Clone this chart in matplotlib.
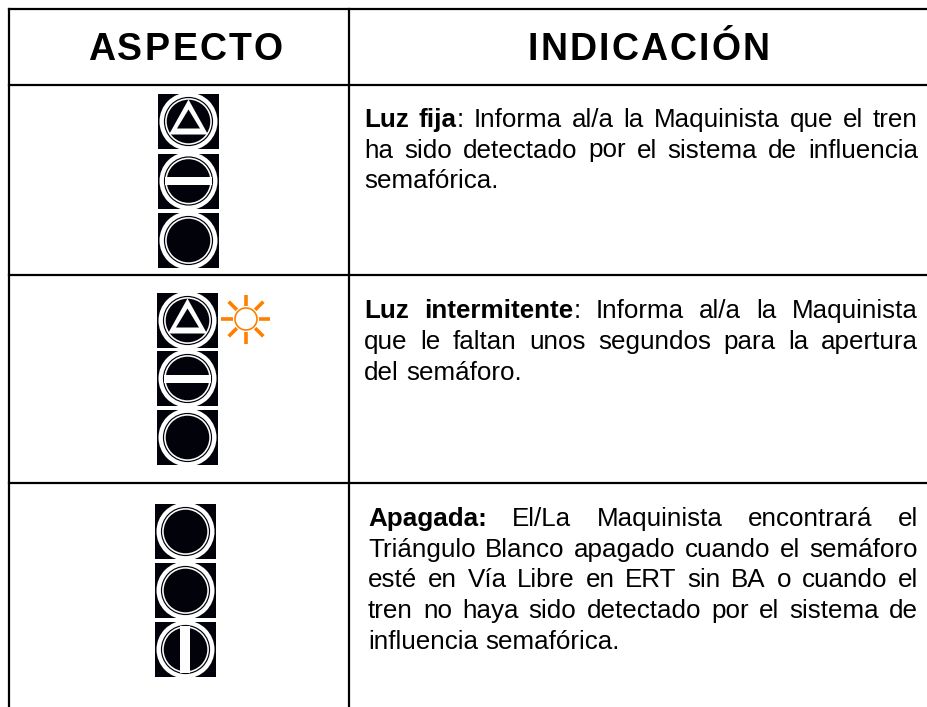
import matplotlib
matplotlib.use('Agg')
import matplotlib.pyplot as plt
from matplotlib.patches import Circle, Polygon, Rectangle
import numpy as np

plt.rcParams['font.family'] = ['Liberation Sans', 'DejaVu Sans']

headers = ['ASPECTO', 'INDICACIÓN']

# what each lamp shows, top to bottom
row1_lamps = ['triangle', 'hbar', 'off']
row2_lamps = ['triangle', 'hbar', 'off']
row3_lamps = ['off', 'off', 'vbar']

# bold lead-in + lines of the text
row1_bold = 'Luz fija'
row1_lines = ['Luz fija: Informa al/a la Maquinista que el tren',
              'ha sido detectado por el sistema de influencia',
              'semafórica.']
row2_bold = 'Luz intermitente'
row2_lines = ['Luz intermitente: Informa al/a la Maquinista',
              'que le faltan unos segundos para la apertura',
              'del semáforo.']
row3_bold = 'Apagada:'
row3_lines = ['Apagada: El/La Maquinista encontrará el',
              'Triángulo Blanco apagado cuando el semáforo',
              'esté en Vía Libre en ERT sin BA o cuando el',
              'tren no haya sido detectado por el sistema de',
              'influencia semafórica.']

fig = plt.figure(figsize=(9.27, 7.07), dpi=100)
ax = fig.add_axes([0, 0, 1, 1])
ax.set_xlim(0, 927)
ax.set_ylim(707, 0)
ax.axis('off')

BLACK = '#02030a'
ORANGE = '#ff8000'
LEFT, MID, RIGHT = 9, 349, 927
TOP, ROW1, ROW2, ROW3 = 9, 85, 275, 483

# table grid, open at the right and at the bottom
ax.plot([LEFT, LEFT], [TOP, 707], color='black', lw=1.6)
ax.plot([MID, MID], [TOP, 707], color='black', lw=1.6)
for y in [TOP, ROW1, ROW2, ROW3]:
    ax.plot([LEFT, RIGHT], [y, y], color='black', lw=1.6)

renderer = fig.canvas.get_renderer()


def text_width(s, **kw):
    t = ax.text(0, 0, s, **kw)
    w = t.get_window_extent(renderer).width
    t.remove()
    return w


def spaced(s, x, y, gap, size):
    # header with wide letter spacing
    for ch in s:
        ax.text(x, y, ch, fontsize=size, fontweight='bold', va='baseline', ha='left')
        x += text_width(ch, fontsize=size, fontweight='bold') + gap


def justified(lines, bold, x0, x1, y0, step, size=18.7):
    n_bold = len(bold.split(' '))
    for i, line in enumerate(lines):
        parts = []
        for j, w in enumerate(line.split(' ')):
            if i == 0 and j < n_bold:
                # colon after the bold lead-in can be normal weight
                if w.endswith(':') and not bold.endswith(':'):
                    parts.append([(w[:-1], 'bold'), (':', 'normal')])
                else:
                    parts.append([(w, 'bold')])
            else:
                parts.append([(w, 'normal')])
        widths = [sum(text_width(p, fontsize=size, fontweight=s) for p, s in ws) for ws in parts]
        if i < len(lines) - 1:
            space = (x1 - x0 - sum(widths)) / (len(parts) - 1)
        else:
            space = text_width('a b', fontsize=size) - text_width('ab', fontsize=size)
        x = x0
        y = y0 + i * step
        for ws, w in zip(parts, widths):
            xx = x
            for p, s in ws:
                ax.text(xx, y, p, fontsize=size, fontweight=s, va='baseline', ha='left')
                xx += text_width(p, fontsize=size, fontweight=s)
            x += w + space


def lamp(kind, x0, y0, w=61, h=55):
    cx = x0 + w / 2
    cy = y0 + h / 2
    ax.add_patch(Rectangle((x0, y0), w, h, fc=BLACK, ec='none', zorder=2))
    ax.add_patch(Circle((cx, cy), 29, fc='white', ec='none', zorder=3))
    ax.add_patch(Circle((cx, cy), 24.6, fc=BLACK, ec='none', zorder=3))
    ax.add_patch(Circle((cx, cy), 23.4, fc='white', ec='none', zorder=3))
    ax.add_patch(Circle((cx, cy), 21.8, fc=BLACK, ec='none', zorder=3))
    if kind == 'triangle':
        ax.add_patch(Polygon([(cx, cy - 22), (cx + 19.5, cy + 13), (cx - 19.5, cy + 13)],
                             fc='white', ec='none', zorder=4))
        ax.add_patch(Polygon([(cx, cy - 12), (cx + 11.5, cy + 7), (cx - 11.5, cy + 7)],
                             fc=BLACK, ec='none', zorder=5))
    elif kind == 'hbar':
        ax.add_patch(Rectangle((cx - 23.4, cy - 4), 46.8, 8, fc='white', ec='none', zorder=4))
    elif kind == 'vbar':
        ax.add_patch(Rectangle((cx - 5, cy - 23.4), 10, 46.8, fc='white', ec='none', zorder=4))


def sun(cx, cy):
    ax.add_patch(Circle((cx, cy), 11, fc='white', ec=ORANGE, lw=1.2, zorder=3))
    for a in np.arange(0, 360, 45):
        c, s = np.cos(np.radians(a)), np.sin(np.radians(a))
        ax.plot([cx + 13 * c, cx + 24.5 * c], [cy + 13 * s, cy + 24.5 * s], color=ORANGE, lw=2.6,
                solid_capstyle='butt', zorder=3)


spaced(headers[0], 88, 60, 2.3, 27)
spaced(headers[1], 528, 60, 2.1, 27)

for kind, y in zip(row1_lamps, [94, 153.5, 213]):
    lamp(kind, 158, y)
for kind, y in zip(row2_lamps, [293, 351, 410]):
    lamp(kind, 157, y)
for kind, y in zip(row3_lamps, [504, 563, 622]):
    lamp(kind, 155, y)
sun(246, 319)

justified(row1_lines, row1_bold, 364, 918, 127, 30.5)
justified(row2_lines, row2_bold, 364, 918, 318, 31)
justified(row3_lines, row3_bold, 368, 918, 526, 30.7)

fig.savefig('out.png', dpi=100)
